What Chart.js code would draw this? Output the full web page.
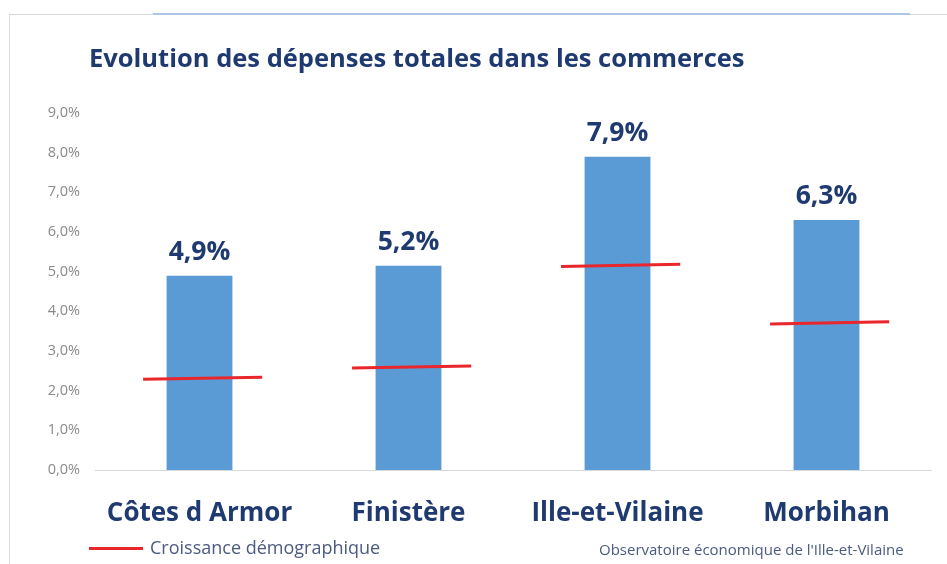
<!DOCTYPE html>
<html lang="fr">
<head>
<meta charset="utf-8">
<script src="https://cdn.jsdelivr.net/npm/chart.js@4.4.1/dist/chart.umd.min.js"></script>
<style>
  html, body { margin: 0; padding: 0; background: #fff; }
  #wrap { position: relative; width: 947px; height: 564px; overflow: hidden; font-family: "Open Sans", sans-serif; }
  #c { position: absolute; left: 0; top: 0; }
  .frame-left { position: absolute; left: 9px; top: 14px; width: 1px; height: 560px; background: #d9d9d9; }
  .frame-top { position: absolute; left: 9px; top: 14px; width: 938px; height: 1px; background: #d9d9d9; }
  .frame-blue { position: absolute; left: 153px; top: 13px; width: 757px; height: 2px; background: #adc6e6; }
  #title { position: absolute; left: 89px; top: 40px; margin: 0; font-size: 25.5px; font-weight: 700; color: #1f3a70; white-space: nowrap; }
  #legend { position: absolute; left: 89px; top: 535px; font-size: 18px; color: #4a5a80; white-space: nowrap; }
  #legend .sw { display: inline-block; width: 54px; height: 3px; background: #e8262b; vertical-align: middle; margin-right: 7px; position: relative; top: -1px; }
  #source { position: absolute; left: 599px; top: 539px; font-size: 15px; color: #4a5a80; white-space: nowrap; }
</style>
</head>
<body>
<div id="wrap">
  <canvas id="c" width="947" height="564"></canvas>
  <div class="frame-left"></div>
  <div class="frame-top"></div>
  <div class="frame-blue"></div>
  <h1 id="title">Evolution des dépenses totales dans les commerces</h1>
  <div id="legend"><span class="sw"></span>Croissance démographique</div>
  <div id="source">Observatoire économique de l'Ille-et-Vilaine</div>
</div>
<script>
// ---- Data ----
const categories = ["Côtes d Armor", "Finistère", "Ille-et-Vilaine", "Morbihan"];
const depenses = [4.9, 5.15, 7.9, 6.3];
const depensesLabels = ["4,9%", "5,2%", "7,9%", "6,3%"];
const demoStart = [2.29, 2.57, 5.13, 3.68];
const demoEnd = [2.34, 2.62, 5.19, 3.74];
const yTicks = [0, 1, 2, 3, 4, 5, 6, 7, 8, 9];

// red segments built from the data arrays (null breaks between categories)
const segLeft = -0.27, segRight = 0.30;
const demoPoints = [];
categories.forEach((c, i) => {
  demoPoints.push({ x: i + segLeft, y: demoStart[i] });
  demoPoints.push({ x: i + segRight, y: demoEnd[i] });
  demoPoints.push({ x: i + 0.5, y: null });
});

const valueLabels = {
  id: 'valueLabels',
  afterDatasetsDraw(chart) {
    const meta = chart.getDatasetMeta(0);
    const ctx = chart.ctx;
    ctx.save();
    ctx.font = '700 26.5px "Open Sans", sans-serif';
    ctx.fillStyle = '#1f3a70';
    ctx.textAlign = 'center';
    ctx.textBaseline = 'alphabetic';
    meta.data.forEach((bar, i) => {
      ctx.fillText(depensesLabels[i], bar.x, bar.y - 16);
    });
    ctx.restore();
  }
};

new Chart(document.getElementById('c'), {
  data: {
    labels: categories,
    datasets: [
      {
        type: 'bar',
        label: 'Dépenses',
        data: depenses,
        backgroundColor: '#5b9bd5',
        borderWidth: 0,
        grouped: false,
        barPercentage: 0.315,
        categoryPercentage: 1.0,
        order: 2
      },
      {
        type: 'line',
        label: 'Croissance démographique',
        data: demoPoints,
        xAxisID: 'x2',
        borderColor: '#e8262b',
        borderWidth: 3,
        pointRadius: 0,
        spanGaps: false,
        tension: 0,
        order: 1
      }
    ]
  },
  options: {
    responsive: false,
    animation: false,
    layout: { padding: { top: 113, right: 16, bottom: 0, left: 0 } },
    plugins: {
      legend: { display: false },
      title: { display: false },
      tooltip: { enabled: false }
    },
    scales: {
      x: {
        type: 'category',
        offset: true,
        grid: { display: false, drawTicks: false },
        border: { display: true, color: '#d9d9d9', width: 1 },
        ticks: {
          color: '#1f3a70',
          font: { family: '"Open Sans", sans-serif', size: 26, weight: '700' },
          padding: 28,
          maxRotation: 0
        },
        afterFit(scale) { scale.height = 94; }
      },
      x2: {
        type: 'linear',
        min: -0.5,
        max: categories.length - 0.5,
        display: false
      },
      y: {
        min: 0,
        max: 9,
        afterBuildTicks(scale) { scale.ticks = yTicks.map(v => ({ value: v })); },
        grid: { display: false, drawTicks: false },
        border: { display: false },
        ticks: {
          color: '#8a8a8a',
          font: { family: '"Open Sans", sans-serif', size: 14.5 },
          padding: 15,
          callback: v => v.toFixed(1).replace('.', ',') + '%'
        },
        afterFit(scale) { scale.width = 95; }
      }
    }
  },
  plugins: [valueLabels]
});
</script>
</body>
</html>
